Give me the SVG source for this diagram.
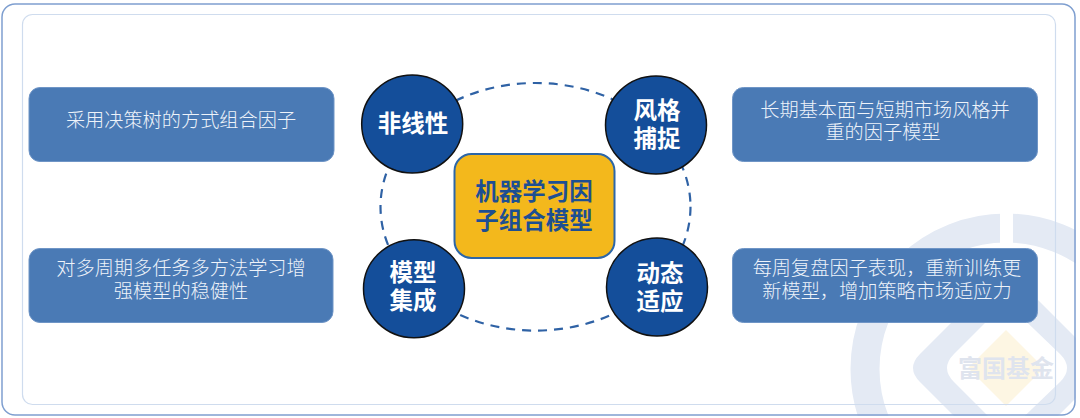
<svg xmlns="http://www.w3.org/2000/svg" width="1080" height="418" viewBox="0 0 1080 418">
<style>
text{font-family:"Noto Sans CJK SC","Liberation Sans",sans-serif;text-anchor:middle}
.box{fill:#4a7ab5;stroke:#6f95c6;stroke-width:1}
.boxt{fill:#eef3fa;font-size:19.200px;font-weight:300}
.circ{fill:#144e9a;stroke:#111;stroke-width:1.500}
.circt{fill:#fff;font-size:23.500px;font-weight:700}
</style>
<defs><clipPath id="wm"><rect x="0" y="0" width="1076" height="416" rx="14"/></clipPath></defs>
<rect width="1080" height="418" fill="#fff"/>
<g id="watermark" clip-path="url(#wm)">
<circle cx="1006" cy="369" r="141" fill="none" stroke="#e4eaf4" stroke-width="29"/>
<rect x="1000" y="205" width="13" height="42" fill="#fff"/>
<path d="M1006 268L1092 354Q1106 368 1092 382L1006 468L920 382Q906 368 920 354Z" fill="#e4eaf4"/>
<path d="M1006 302L1060 354Q1074 368 1060 382L1006 434L954 382Q940 368 954 354Z" fill="#fff"/>
<path d="M1006 330L1044 368L1006 406L968 368Z" fill="#fdf6e3"/>
<text x="1006" y="377" style="font-size:24px;font-weight:700;fill:#dfe4ee">富国基金</text>
</g>
<rect id="frame-outer" x="2" y="4" width="1073" height="411" rx="13" fill="none" stroke="#7f9fd0" stroke-width="1.500"/>
<rect id="frame-inner" x="22.500" y="14.500" width="1033" height="390" rx="10" fill="none" stroke="#cfdcee" stroke-width="1.200"/>
<g id="connectors"><ellipse cx="535.500" cy="206.800" rx="155" ry="123.800" fill="none" stroke="#2f62a5" stroke-width="2.200" stroke-dasharray="9 7"/></g>
<g id="n1"><ellipse class="circ" cx="412.200" cy="124" rx="50.500" ry="49"/><text class="circt" x="413" y="132">非线性</text></g>
<g id="n2"><ellipse class="circ" cx="656" cy="125" rx="50.500" ry="49"/><text class="circt" x="657"><tspan x="657" y="119">风格</tspan><tspan x="657" y="147">捕捉</tspan></text></g>
<g id="n3"><ellipse class="circ" cx="414" cy="288.700" rx="50.500" ry="49"/><text class="circt" x="413"><tspan x="413" y="281">模型</tspan><tspan x="413" y="309">集成</tspan></text></g>
<g id="n4"><ellipse class="circ" cx="657" cy="287" rx="50.500" ry="49"/><text class="circt" x="660"><tspan x="660" y="282">动态</tspan><tspan x="660" y="310">适应</tspan></text></g>
<g id="center"><rect x="454.500" y="154" width="160" height="104" rx="17" fill="#f3b81c" stroke="#2c66a8" stroke-width="2"/><text style="font-size:23.500px;font-weight:700;fill:#1d4f92"><tspan x="534" y="200">机器学习因</tspan><tspan x="534" y="229">子组合模型</tspan></text></g>
<g id="b1"><rect class="box" x="29" y="87.500" width="305" height="74" rx="11"/><text class="boxt" x="181" y="127">采用决策树的方式组合因子</text></g>
<g id="b2"><rect class="box" x="29" y="248.500" width="304" height="74" rx="11"/><text class="boxt"><tspan x="181" y="275">对多周期多任务多方法学习增</tspan><tspan x="181" y="298">强模型的稳健性</tspan></text></g>
<g id="b3"><rect class="box" x="732.500" y="87.500" width="305" height="74" rx="11"/><text class="boxt"><tspan x="885" y="117">长期基本面与短期市场风格并</tspan><tspan x="883" y="139">重的因子模型</tspan></text></g>
<g id="b4"><rect class="box" x="732.500" y="248.500" width="305" height="74" rx="11"/><text class="boxt"><tspan x="887" y="275">每周复盘因子表现，重新训练更</tspan><tspan x="887" y="298">新模型，增加策略市场适应力</tspan></text></g>
</svg>
